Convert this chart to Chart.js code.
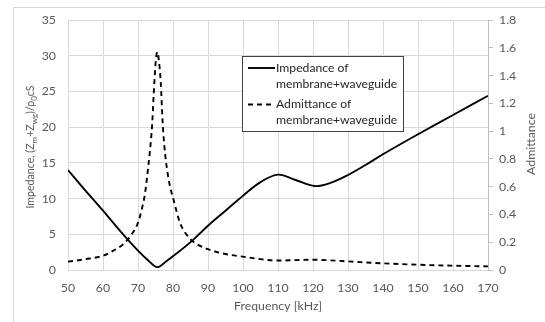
<!DOCTYPE html>
<html>
<head>
<meta charset="utf-8">
<script src="https://cdn.jsdelivr.net/npm/chart.js@4"></script>
<style>
  html, body { margin: 0; padding: 0; background: #fff; }
  #wrap { width: 545px; height: 322px; position: relative; }
</style>
</head>
<body>
<div id="wrap"><canvas id="grafico"></canvas></div>
<script>
// Impedancia (eje izquierdo)
const impFreq = [50, 55, 60, 65, 70, 73, 75.5, 78, 81, 85, 90, 95, 100, 105, 110, 115, 120.5, 125, 130, 135, 140, 150, 160, 170];
const impValues = [14.0, 11.1, 8.3, 5.4, 2.7, 1.3, 0.4, 1.2, 2.3, 3.9, 6.2, 8.3, 10.4, 12.3, 13.35, 12.6, 11.75, 12.2, 13.3, 14.7, 16.2, 19.0, 21.7, 24.4];

// Admitancia (eje derecho)
const admFreq = [50, 55, 60, 63, 66, 68, 70, 71, 72, 73, 73.5, 74, 74.5, 75, 75.5, 76, 76.5, 77, 77.5, 78, 79, 80, 82, 84, 86, 90, 95, 100, 105, 110, 115, 120, 125, 130, 140, 150, 160, 170];
const admValues = [0.06, 0.078, 0.103, 0.14, 0.19, 0.25, 0.34, 0.43, 0.55, 0.76, 0.88, 1.03, 1.27, 1.48, 1.57, 1.50, 1.35, 1.08, 0.90, 0.78, 0.62, 0.52, 0.34, 0.25, 0.20, 0.15, 0.115, 0.096, 0.078, 0.068, 0.071, 0.074, 0.069, 0.062, 0.048, 0.038, 0.031, 0.026];

const etiquetas = ["Impedance of\nmembrane+waveguide", "Admittance of\nmembrane+waveguide"];
const tituloX = "Frequency [kHz]";
const tituloY1 = "Admittance";
// Título izquierdo con subíndices: [texto, esSubindice]
const tituloY = [["Impedance, (Z", 0], ["m", 1], ["+Z", 0], ["wg", 1], [")/\u03C1", 0], ["0", 1], ["cS", 0]];

const fuente = "Lato, 'Open Sans', sans-serif";
const gris = "#595959";

function puntos(xs, ys) {
  return xs.map((x, i) => ({ x: x, y: ys[i] }));
}

// Dibuja borde, títulos de ejes y leyenda
const decoracion = {
  id: "decoracion",
  beforeDraw(chart) {
    const ctx = chart.ctx;
    ctx.save();
    ctx.strokeStyle = "#d9d9d9";
    ctx.lineWidth = 1;
    ctx.strokeRect(13.5, 7.5, 560, 340);
    ctx.restore();
  },
  afterDraw(chart) {
    const ctx = chart.ctx;
    const area = chart.chartArea;
    ctx.save();
    ctx.fillStyle = gris;
    ctx.textBaseline = "middle";

    // título eje x
    ctx.font = "12.3px " + fuente;
    ctx.textAlign = "center";
    ctx.fillText(tituloX, (area.left + area.right) / 2, 306);

    // título eje derecho
    ctx.save();
    ctx.translate(531, 144);
    ctx.rotate(-Math.PI / 2);
    ctx.fillText(tituloY1, 0, 0);
    ctx.restore();

    // título eje izquierdo (con subíndices)
    ctx.save();
    ctx.translate(31, 147);
    ctx.rotate(-Math.PI / 2);
    ctx.textAlign = "left";
    let total = 0;
    tituloY.forEach(([t, sub]) => {
      ctx.font = (sub ? "8px " : "10.6px ") + fuente;
      total += ctx.measureText(t).width;
    });
    let px = -total / 2;
    tituloY.forEach(([t, sub]) => {
      ctx.font = (sub ? "8px " : "10.6px ") + fuente;
      ctx.fillText(t, px, sub ? 3 : 0);
      px += ctx.measureText(t).width;
    });
    ctx.restore();

    // leyenda
    ctx.fillStyle = "#fff";
    ctx.fillRect(242, 56, 161, 75);
    ctx.strokeStyle = "#404040";
    ctx.lineWidth = 1;
    ctx.strokeRect(242.5, 56.5, 161, 75);
    ctx.font = "12.2px " + fuente;
    ctx.textAlign = "left";
    chart.data.datasets.forEach((ds, i) => {
      const y0 = 68 + i * 36.5;
      ctx.strokeStyle = ds.borderColor;
      ctx.lineWidth = ds.borderWidth;
      ctx.setLineDash(ds.borderDash || []);
      ctx.beginPath();
      ctx.moveTo(248, y0);
      ctx.lineTo(275, y0);
      ctx.stroke();
      ctx.setLineDash([]);
      ctx.fillStyle = "#262626";
      ds.label.split("\n").forEach((linea, j) => {
        ctx.fillText(linea, 276, y0 + j * 15.7);
      });
    });
    ctx.restore();
  }
};

new Chart(document.getElementById("grafico"), {
  type: "line",
  data: {
    datasets: [
      {
        label: etiquetas[0],
        data: puntos(impFreq, impValues),
        yAxisID: "y",
        borderColor: "#000",
        borderWidth: 1.9,
        pointRadius: 0,
        tension: 0.35,
        fill: false
      },
      {
        label: etiquetas[1],
        data: puntos(admFreq, admValues),
        yAxisID: "y1",
        borderColor: "#000",
        borderWidth: 1.9,
        borderDash: [5, 4],
        pointRadius: 0,
        cubicInterpolationMode: "monotone",
        fill: false
      }
    ]
  },
  options: {
    responsive: true,
    maintainAspectRatio: false,
    animation: false,
    layout: { padding: { top: 20, left: 0, right: 0, bottom: 0 } },
    plugins: {
      legend: { display: false },
      tooltip: { enabled: false }
    },
    scales: {
      x: {
        type: "linear",
        min: 50,
        max: 170,
        ticks: { stepSize: 10, color: gris, font: { family: fuente, size: 12.3 }, padding: 11, maxRotation: 0 },
        grid: { color: "#d9d9d9", drawTicks: false },
        border: { color: "#d9d9d9" },
        afterFit: (s) => { s.height = 52; }
      },
      y: {
        position: "left",
        min: 0,
        max: 35,
        ticks: { stepSize: 5, color: gris, font: { family: fuente, size: 12.3 }, padding: 12 },
        grid: { color: "#d9d9d9", drawTicks: false },
        border: { color: "#d9d9d9" },
        afterFit: (s) => { s.width = 68; }
      },
      y1: {
        position: "right",
        min: 0,
        max: 1.8,
        ticks: {
          stepSize: 0.2,
          color: gris,
          font: { family: fuente, size: 12.3 },
          padding: 6,
          callback: (v) => String(Math.round(v * 10) / 10)
        },
        grid: { drawOnChartArea: false, color: "#bfbfbf", tickLength: 5 },
        border: { color: "#bfbfbf" },
        afterFit: (s) => { s.width = 57; }
      }
    }
  },
  plugins: [decoracion]
});
</script>
</body>
</html>
